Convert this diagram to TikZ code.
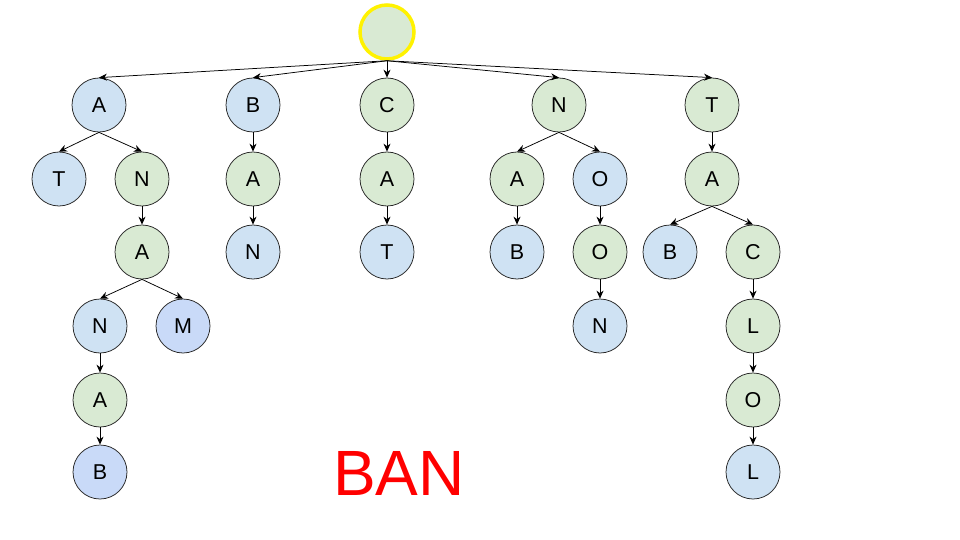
\documentclass[tikz,border=0pt]{standalone}
\usepackage{fontspec}
\setmainfont{Liberation Sans}
\usetikzlibrary{arrows.meta}
\definecolor{gfill}{HTML}{D9EAD3}
\definecolor{bfill}{HTML}{CFE2F3}
\definecolor{cfill}{HTML}{C9DAF8}
\begin{document}
\begin{tikzpicture}[x=1pt,y=-1pt,
  nd/.style={circle,draw=black!85,line width=0.75pt,minimum size=54pt,inner sep=0pt,font=\fontsize{21.5}{21.5}\selectfont},
  gn/.style={nd,fill=gfill},
  bn/.style={nd,fill=bfill},
  cn/.style={nd,fill=cfill},
  edge/.style={draw=black,line width=0.75pt,-{Stealth[length=8pt,width=7pt]}}]
\useasboundingbox[fill=white] (0,0) rectangle (960,540);
\node[circle,draw=yellow,fill=gfill,line width=3.5pt,minimum size=54pt,inner sep=0pt] (r) at (387,32) {};
% level 1
\node[bn] (a) at (99,105) {A};
\node[bn] (b) at (253,105) {B};
\node[gn] (c) at (387,105) {C};
\node[gn] (n) at (559,105) {N};
\node[gn] (t) at (712,105) {T};
% level 2
\node[bn] (at) at (59,179) {T};
\node[gn] (an) at (142,179) {N};
\node[gn] (ba) at (253,179) {A};
\node[gn] (ca) at (387,179) {A};
\node[gn] (na) at (517,179) {A};
\node[bn] (no) at (600,179) {O};
\node[gn] (ta) at (712,179) {A};
% level 3
\node[gn] (ana) at (142,252) {A};
\node[bn] (ban) at (253,252) {N};
\node[bn] (cat) at (387,252) {T};
\node[bn] (nab) at (517,252) {B};
\node[gn] (noo) at (600,252) {O};
\node[bn] (tab) at (670,252) {B};
\node[gn] (tac) at (753,252) {C};
% level 4
\node[bn] (anan) at (100,326) {N};
\node[cn] (anam) at (183,326) {M};
\node[bn] (noon) at (600,326) {N};
\node[gn] (tacl) at (753,326) {L};
% level 5
\node[gn] (anana) at (100,400) {A};
\node[gn] (taclo) at (753,400) {O};
% level 6
\node[cn] (ananab) at (100,472) {B};
\node[bn] (taclol) at (753,472) {L};
% text
\node[text=red,font=\fontsize{64}{64}\selectfont,inner sep=0pt] (ttl) at (399,473) {BAN};
% edges
\foreach \p/\c in {r/a,r/b,r/c,r/n,r/t,a/at,a/an,b/ba,c/ca,n/na,n/no,t/ta,an/ana,ba/ban,ca/cat,na/nab,no/noo,ta/tab,ta/tac,ana/anan,ana/anam,noo/noon,tac/tacl,anan/anana,tacl/taclo,anana/ananab,taclo/taclol}
  \draw[edge] (\p.south) -- (\c.north);
\end{tikzpicture}
\end{document}
